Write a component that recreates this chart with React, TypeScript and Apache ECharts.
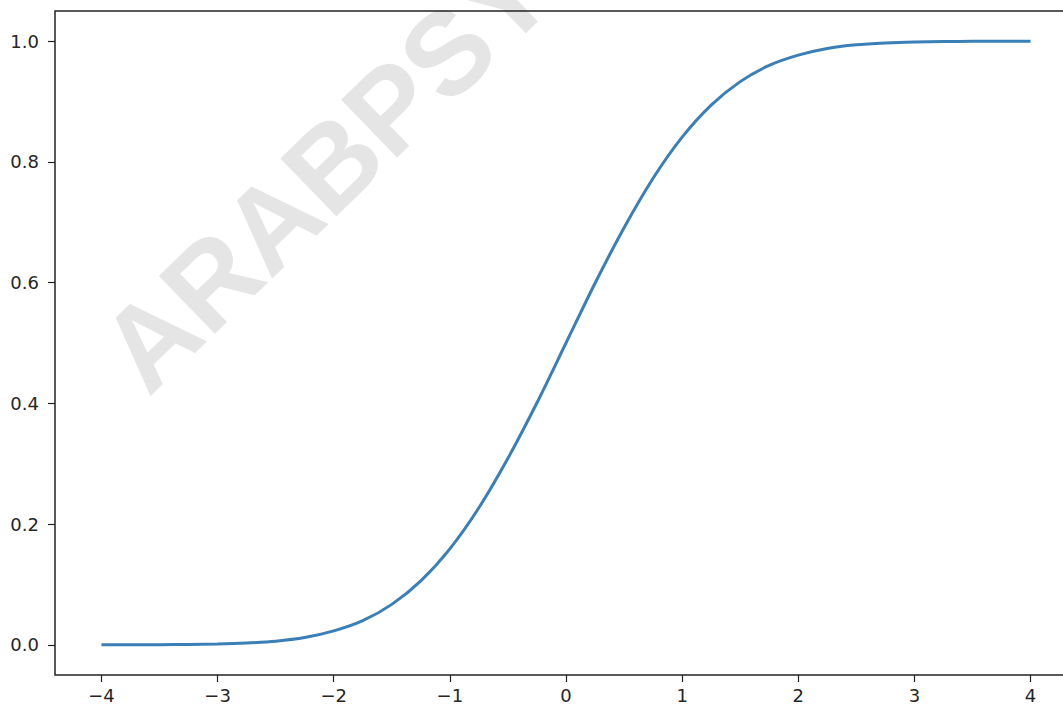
import React, { useEffect, useRef } from "react";
import * as echarts from "echarts";

const xValues = [
  -4, -3.75, -3.5, -3.25, -3, -2.75, -2.5, -2.25, -2, -1.75, -1.5, -1.25, -1,
  -0.75, -0.5, -0.25, 0, 0.25, 0.5, 0.75, 1, 1.25, 1.5, 1.75, 2, 2.25, 2.5,
  2.75, 3, 3.25, 3.5, 3.75, 4,
];
const yValues = [
  0.0, 0.0001, 0.0002, 0.0006, 0.0013, 0.003, 0.006, 0.012, 0.023, 0.04, 0.067,
  0.106, 0.159, 0.227, 0.309, 0.401, 0.5, 0.599, 0.691, 0.773, 0.841, 0.894,
  0.933, 0.96, 0.977, 0.988, 0.994, 0.997, 0.9987, 0.9994, 0.9998, 0.9999, 1.0,
];
const xTicks = [-4, -3, -2, -1, 0, 1, 2, 3, 4];
const yTicks = [0, 0.2, 0.4, 0.6, 0.8, 1.0];
const watermark = "ARABPSY";

export default function App() {
  const ref = useRef<HTMLDivElement>(null);
  useEffect(() => {
    if (!ref.current) return;
    const chart = echarts.init(ref.current, undefined, { renderer: "svg" });
    const textColor = "#262626";
    const font = "DejaVu Sans";
    chart.setOption({
      animation: false,
      backgroundColor: "#ffffff",
      graphic: [
        {
          type: "text",
          x: 326,
          y: 170,
          rotation: (44 * Math.PI) / 180,
          z: -1,
          style: {
            text: watermark,
            fontSize: 117,
            fontWeight: "bold",
            fontFamily: "Liberation Sans",
            fill: "#e5e5e5",
            align: "center",
            verticalAlign: "middle",
          },
        },
      ],
      grid: {
        left: 55,
        top: 11,
        width: 1022,
        height: 664,
        show: true,
        borderColor: "#222",
        borderWidth: 1.5,
        backgroundColor: "transparent",
      },
      xAxis: {
        type: "value",
        min: -4.4,
        max: 4.4,
        axisLine: { show: false, onZero: false },
        splitLine: { show: false },
        axisTick: {
          show: true,
          length: 7,
          lineStyle: { color: "#222", width: 1.2 },
          customValues: xTicks,
        },
        axisLabel: {
          customValues: xTicks,
          formatter: (v: number) => (v < 0 ? "\u2212" + Math.abs(v) : String(v)),
          color: textColor,
          fontSize: 18,
          fontFamily: font,
          margin: 11,
        },
      },
      yAxis: {
        type: "value",
        min: -0.05,
        max: 1.05,
        axisLine: { show: false, onZero: false },
        splitLine: { show: false },
        axisTick: {
          show: true,
          length: 7,
          lineStyle: { color: "#222", width: 1.2 },
          customValues: yTicks,
        },
        axisLabel: {
          customValues: yTicks,
          formatter: (v: number) => v.toFixed(1),
          color: textColor,
          fontSize: 18,
          fontFamily: font,
          margin: 16,
        },
      },
      series: [
        {
          type: "line",
          data: xValues.map((x, i) => [x, yValues[i]]),
          smooth: 0.3,
          showSymbol: false,
          lineStyle: { color: "#3a7fb8", width: 3 },
        },
      ],
    });
    return () => chart.dispose();
  }, []);
  return (
    <div
      style={{
        position: "fixed",
        left: 0,
        top: 0,
        width: 1063,
        height: 707,
        overflow: "hidden",
        background: "#fff",
      }}
    >
      <div ref={ref} style={{ width: 1100, height: 707 }} />
    </div>
  );
}
